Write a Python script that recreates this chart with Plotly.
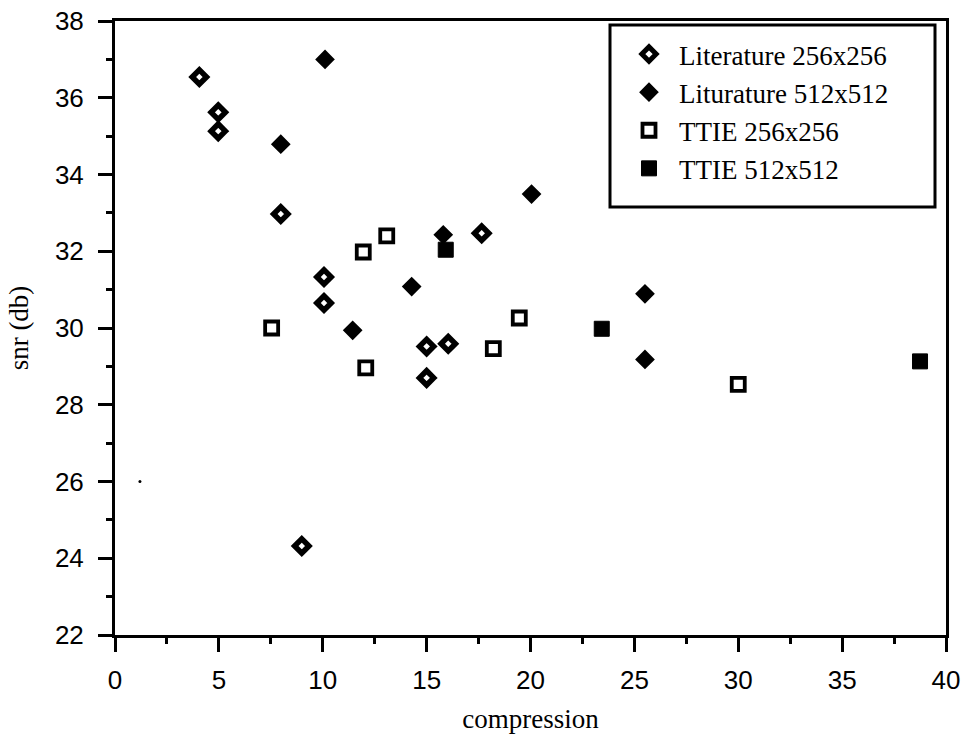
import plotly.graph_objects as go

# Literature 256x256 (open diamond)
lit256_x = [4.06, 4.97, 4.97, 7.98, 10.06, 10.06, 8.99, 15.0, 16.04, 15.0, 17.65]
lit256_y = [36.54, 35.62, 35.13, 32.97, 31.33, 30.65, 24.32, 29.52, 29.59, 28.70, 32.47]

# Liturature 512x512 (filled diamond)
lit512_x = [10.11, 7.98, 11.44, 14.28, 15.80, 20.05, 25.51, 25.51]
lit512_y = [37.00, 34.79, 29.94, 31.08, 32.43, 33.49, 30.89, 29.18]

# TTIE 256x256 (open square)
ttie256_x = [7.54, 11.95, 13.08, 12.07, 18.21, 19.46, 30.00]
ttie256_y = [30.00, 31.98, 32.40, 28.96, 29.46, 30.26, 28.53]

# TTIE 512x512 (filled square)
ttie512_x = [15.92, 23.43, 38.75]
ttie512_y = [32.04, 29.98, 29.13]

# stray dot visible in the scan
stray_x = [1.2]
stray_y = [26.0]

x_ticks = [0, 5, 10, 15, 20, 25, 30, 35, 40]
y_ticks = [22, 24, 26, 28, 30, 32, 34, 36, 38]

fig = go.Figure()
fig.add_trace(go.Scatter(x=lit256_x, y=lit256_y, mode="markers", name="Literature 256x256",
                         marker=dict(symbol="diamond-open", size=11, color="black",
                                     line=dict(width=5.5, color="black"))))
fig.add_trace(go.Scatter(x=lit512_x, y=lit512_y, mode="markers", name="Liturature 512x512",
                         marker=dict(symbol="diamond", size=13, color="black",
                                     line=dict(width=2, color="black"))))
fig.add_trace(go.Scatter(x=ttie256_x, y=ttie256_y, mode="markers", name="TTIE 256x256",
                         marker=dict(symbol="square-open", size=13, color="black",
                                     line=dict(width=3.8, color="black"))))
fig.add_trace(go.Scatter(x=ttie512_x, y=ttie512_y, mode="markers", name="TTIE 512x512",
                         marker=dict(symbol="square", size=15, color="black",
                                     line=dict(width=1, color="black"))))
fig.add_trace(go.Scatter(x=stray_x, y=stray_y, mode="markers", showlegend=False,
                         marker=dict(symbol="circle", size=3, color="black")))

W, H = 962, 734
# plot area in page pixels
pl, pr, pt, pb = 115, 946, 21, 635

def px2paper_x(p):
    return (p - pl) / (pr - pl)

def px2paper_y(p):
    return (pb - p) / (pb - pt)

fig.add_shape(type="rect", xref="paper", yref="paper",
              x0=px2paper_x(610), x1=px2paper_x(935),
              y0=px2paper_y(207), y1=px2paper_y(25),
              line=dict(color="black", width=3), fillcolor="white", layer="below")

fig.update_layout(
    width=W, height=H,
    margin=dict(l=pl, r=W - pr, t=pt, b=H - pb, autoexpand=False),
    plot_bgcolor="white", paper_bgcolor="white",
    showlegend=True,
    legend=dict(x=px2paper_x(619), y=px2paper_y(30), xanchor="left", yanchor="top",
                bgcolor="rgba(0,0,0,0)", borderwidth=0,
                font=dict(family="Liberation Serif", size=27, color="black"),
                tracegroupgap=0, itemwidth=50),
    xaxis=dict(range=[0, 40], tickvals=x_ticks, ticktext=[str(v) for v in x_ticks],
               automargin=False, ticklabeloverflow="allow",
               showgrid=False, zeroline=False, showline=True, linecolor="black",
               linewidth=3, mirror=True, ticks="outside", ticklen=14, tickwidth=3,
               tickcolor="black", ticklabelstandoff=6,
               tickfont=dict(family="Liberation Sans", size=26, color="black"),
               minor=dict(dtick=2.5, tick0=0, ticks="outside", ticklen=6, tickwidth=3,
                          tickcolor="black", showgrid=False),
               title=dict(text="compression", standoff=16,
                          font=dict(family="Liberation Serif", size=27, color="black"))),
    yaxis=dict(range=[22, 38], tickvals=y_ticks, ticktext=[str(v) for v in y_ticks],
               automargin=False, ticklabeloverflow="allow",
               showgrid=False, zeroline=False, showline=True, linecolor="black",
               linewidth=3, mirror=True, ticks="outside", ticklen=14, tickwidth=3,
               tickcolor="black", ticklabelstandoff=9,
               tickfont=dict(family="Liberation Sans", size=26, color="black"),
               minor=dict(dtick=1, tick0=22, ticks="outside", ticklen=6, tickwidth=3,
                          tickcolor="black", showgrid=False),
               title=dict(text="snr (db)", standoff=19,
                          font=dict(family="Liberation Serif", size=27, color="black"))),
)

fig.write_html("out.html", config={"displayModeBar": False},
               post_script="document.body.style.margin='0';document.body.style.overflow='hidden';")
